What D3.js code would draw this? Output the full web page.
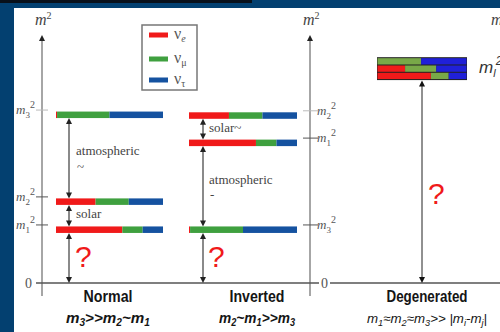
<!DOCTYPE html>
<html><head><meta charset="utf-8">
<script src="https://cdn.jsdelivr.net/npm/d3@7"></script>
<style>html,body{margin:0;padding:0;background:#034070;}svg{display:block;}</style>
</head><body>
<svg id="chart" width="500" height="332"></svg>
<script>
// ---------- data ----------
const categories = ["Normal", "Inverted", "Degenerated"];
const relations = [
  [["m","3"],[">>",""],["m","2"],["~",""],["m","1"]],
  [["m","2"],["~",""],["m","1"],[">>",""],["m","3"]],
  [["m","1"],["≈",""],["m","2"],["≈",""],["m","3"],[">> |",""],["m","i"],["-",""],["m","j"],["|",""]]
];
const flavors = ["e", "μ", "τ"];
const levelNames = ["1", "2", "3"];
// mass-squared levels (arbitrary units, 0..100)
const normalLevels = [23.6, 35.0, 70.3];   // m1², m2², m3²
const invertedLevels = [58.9, 70.0, 23.6]; // m1², m2², m3²
const degenerateLevel = 92;
// flavour content of each mass state (νe, νμ, ντ)
const mixM1 = [0.62, 0.19, 0.19];
const mixM2 = [0.37, 0.31, 0.32];
const mixM3 = [0.01, 0.49, 0.50];
const degenerateRows = [[0.00, 0.49, 0.51], [0.31, 0.35, 0.34], [0.60, 0.20, 0.20]];
const gapLabelsNormal = ["atmospheric", "solar"];
const gapLabelsInverted = ["solar~", "atmospheric"];

// ---------- layout ----------
const svg = d3.select("#chart");
const colors = ["#f01a1a", "#3fa03f", "#1552a0"];
const degColors = ["#f01a1a", "#78a848", "#2020d8"];
const y = d3.scaleLinear().domain([0, 100]).range([283, 37]);
const barH = 6.5;
const serif = "'Liberation Serif','Times New Roman',serif";
const narrow = "'Liberation Sans Narrow','Arial Narrow','Liberation Sans',sans-serif";

// background frame
svg.append("rect").attr("width", 500).attr("height", 332).attr("fill", "#034070");
svg.append("rect").attr("width", 252).attr("height", 3).attr("fill", "#08101a");
svg.append("rect").attr("x", 14).attr("y", 8).attr("width", 486).attr("height", 324).attr("fill", "#ffffff");

function arrowHead(x, yy, dir, col) {
  svg.append("path")
    .attr("d", `M${x},${yy} L${x - 3},${yy - dir * 6} L${x + 3},${yy - dir * 6} Z`)
    .attr("fill", col);
}
function dArrow(x, y1, y2, lineCol, headCol, w) {
  svg.append("line").attr("x1", x).attr("x2", x).attr("y1", y1 + 3).attr("y2", y2 - 3)
    .attr("stroke", lineCol).attr("stroke-width", w);
  arrowHead(x, y1, -1, headCol);
  arrowHead(x, y2, 1, headCol);
}
function massLabel(g, x, yy, idx, anchor) {
  const t = g.append("text").attr("x", x).attr("y", yy).attr("text-anchor", anchor)
    .attr("font-family", serif).attr("font-style", "italic").attr("font-size", 13).attr("fill", "#555");
  t.append("tspan").text("m");
  t.append("tspan").attr("font-size", 9).attr("dy", 4).attr("font-style", "normal").text(idx);
  t.append("tspan").attr("font-size", 10).attr("dy", -10).attr("font-style", "normal").text("2");
}
function bar(x0, x1, yTop, mix, cols, h) {
  const xs = d3.scaleLinear().domain([0, 1]).range([x0, x1]);
  let acc = 0;
  mix.forEach((f, i) => {
    svg.append("rect").attr("x", xs(acc)).attr("y", yTop).attr("width", Math.max(0, xs(acc + f) - xs(acc)))
      .attr("height", h).attr("fill", cols[i]);
    acc += f;
  });
}

// ---------- axes ----------
const axes = [42, 310];
axes.forEach(ax => {
  svg.append("line").attr("x1", ax).attr("x2", ax).attr("y1", 40).attr("y2", 296)
    .attr("stroke", "#888").attr("stroke-width", 1.5);
  arrowHead(ax, 35, -1, "#222");
  const t = svg.append("text").attr("x", ax - 7).attr("y", 25).attr("font-family", serif)
    .attr("font-style", "italic").attr("font-size", 16).attr("fill", "#444");
  t.append("tspan").text("m");
  t.append("tspan").attr("font-size", 10).attr("dy", -6).attr("font-style", "normal").text("2");
});
// far right partial axis label
svg.append("text").attr("x", 491).attr("y", 25).attr("font-family", serif)
  .attr("font-style", "italic").attr("font-size", 16).attr("fill", "#444").text("m");

// horizontal zero axis
svg.append("line").attr("x1", 36).attr("x2", 319).attr("y1", y(0)).attr("y2", y(0))
  .attr("stroke", "#555").attr("stroke-width", 1.5);
svg.append("line").attr("x1", 330).attr("x2", 500).attr("y1", y(0)).attr("y2", y(0))
  .attr("stroke", "#555").attr("stroke-width", 1.5);
svg.append("text").attr("x", 25).attr("y", y(0) + 5).attr("font-family", serif)
  .attr("font-size", 14).attr("fill", "#555").text("0");
svg.append("text").attr("x", 321).attr("y", y(0) + 5).attr("font-family", serif)
  .attr("font-size", 14).attr("fill", "#555").text("0");

// ticks + labels
normalLevels.forEach((v, i) => {
  svg.append("line").attr("x1", 36).attr("x2", 48).attr("y1", y(v)).attr("y2", y(v))
    .attr("stroke", i === 2 ? "#bbb" : "#555").attr("stroke-width", 1);
  massLabel(svg, 35, y(v) + 4, levelNames[i], "end");
});
invertedLevels.forEach((v, i) => {
  svg.append("line").attr("x1", 303).attr("x2", 318).attr("y1", y(v)).attr("y2", y(v))
    .attr("stroke", i === 1 ? "#bbb" : "#555").attr("stroke-width", 1);
  massLabel(svg, 317, y(v) + 4, levelNames[i], "start");
});

// ---------- bars ----------
const mixes = [mixM1, mixM2, mixM3];
normalLevels.forEach((v, i) => bar(56, 163, y(v) + 1.5, mixes[i], colors, barH));
invertedLevels.forEach((v, i) => bar(189, 297, y(v) + 1.5, mixes[i], colors, barH));
// degenerate stacked rows
const rowH = 7.3;
const degTop = y(degenerateLevel) + 1;
svg.append("rect").attr("x", 377).attr("y", degTop - 0.5).attr("width", 90).attr("height", rowH * 3 + 1)
  .attr("fill", "#222");
degenerateRows.forEach((mix, r) => bar(377.5, 466.5, degTop + r * rowH + 0.5, mix, degColors, rowH - 1));
const ml = svg.append("text").attr("x", 479).attr("y", degTop + 15)
  .attr("font-family", "'Liberation Sans',Arial,sans-serif").attr("font-style", "italic")
  .attr("font-size", 17).attr("fill", "#333");
ml.append("tspan").text("m");
ml.append("tspan").attr("font-size", 11).attr("dy", 4).text("l");
ml.append("tspan").attr("font-size", 12).attr("dy", -12).text("2");

// ---------- gap arrows ----------
const gray = "#8a8a8a", head = "#222";
const nB = normalLevels.map(v => [y(v) + 1.5, y(v) + 1.5 + barH]);
dArrow(69, nB[2][1], nB[1][0], gray, head, 2);
dArrow(69, nB[1][1], nB[0][0], gray, head, 2);
dArrow(69, nB[0][1], y(0), gray, head, 2);
const iB = invertedLevels.map(v => [y(v) + 1.5, y(v) + 1.5 + barH]);
dArrow(203, iB[1][1], iB[0][0], gray, head, 2);
dArrow(203, iB[0][1], iB[2][0], gray, head, 2);
dArrow(203, iB[2][1], y(0), gray, head, 2);
dArrow(422, degTop + rowH * 3 + 1, y(0), "#222", "#111", 1);

// gap labels
function gapText(x, yy, txt) {
  svg.append("text").attr("x", x).attr("y", yy).attr("font-family", serif)
    .attr("font-size", 13).attr("fill", "#444").text(txt);
}
gapText(76, 155, gapLabelsNormal[0]);
gapText(77, 171, "~");
gapText(76, 218, gapLabelsNormal[1]);
gapText(209, 132, gapLabelsInverted[0]);
gapText(209, 184, gapLabelsInverted[1]);
gapText(210, 199, "-");

// question marks
[[75, 267], [208, 267], [428, 204]].forEach(p => {
  svg.append("text").attr("x", p[0]).attr("y", p[1]).attr("font-family", "'Liberation Sans',Arial,sans-serif")
    .attr("font-size", 30).attr("fill", "#f01a1a").text("?");
});

// ---------- legend ----------
svg.append("rect").attr("x", 142).attr("y", 25).attr("width", 55).attr("height", 65)
  .attr("fill", "#fff").attr("stroke", "#777").attr("stroke-width", 1.5);
[35, 59, 80].forEach((ly, i) => {
  svg.append("rect").attr("x", 149).attr("y", ly - 2.5).attr("width", 19).attr("height", 5).attr("fill", colors[i]);
  const t = svg.append("text").attr("x", 174).attr("y", ly + 4).attr("font-family", serif)
    .attr("font-size", 16).attr("fill", "#555");
  t.append("tspan").text("ν");
  t.append("tspan").attr("font-size", 10).attr("dy", 3).attr("font-style", i === 0 ? "italic" : "normal").text(flavors[i]);
});

// ---------- bottom captions ----------
const capX = [108, 257, 427];
const capW = [49, 55, 81];
const relW = [84, 76, 120];
categories.forEach((c, i) => {
  svg.append("text").attr("x", capX[i]).attr("y", 302).attr("text-anchor", "middle")
    .attr("font-family", narrow).attr("font-weight", "bold").attr("font-size", 17).attr("fill", "#151515")
    .attr("textLength", capW[i]).attr("lengthAdjust", "spacingAndGlyphs").text(c);
  const t = svg.append("text").attr("x", capX[i]).attr("y", 323).attr("text-anchor", "middle")
    .attr("font-family", narrow).attr("font-style", "italic").attr("font-weight", i === 2 ? "normal" : "bold")
    .attr("font-size", i === 2 ? 13 : 15).attr("fill", "#151515")
    .attr("textLength", relW[i]).attr("lengthAdjust", "spacingAndGlyphs");
  let prevSub = false;
  relations[i].forEach(([a, s]) => {
    t.append("tspan").attr("dy", prevSub ? -3 : 0).text(a);
    if (s) {
      t.append("tspan").attr("font-size", i === 2 ? 9 : 10).attr("dy", 3).text(s);
      prevSub = true;
    } else prevSub = false;
  });
});
</script>
</body></html>
